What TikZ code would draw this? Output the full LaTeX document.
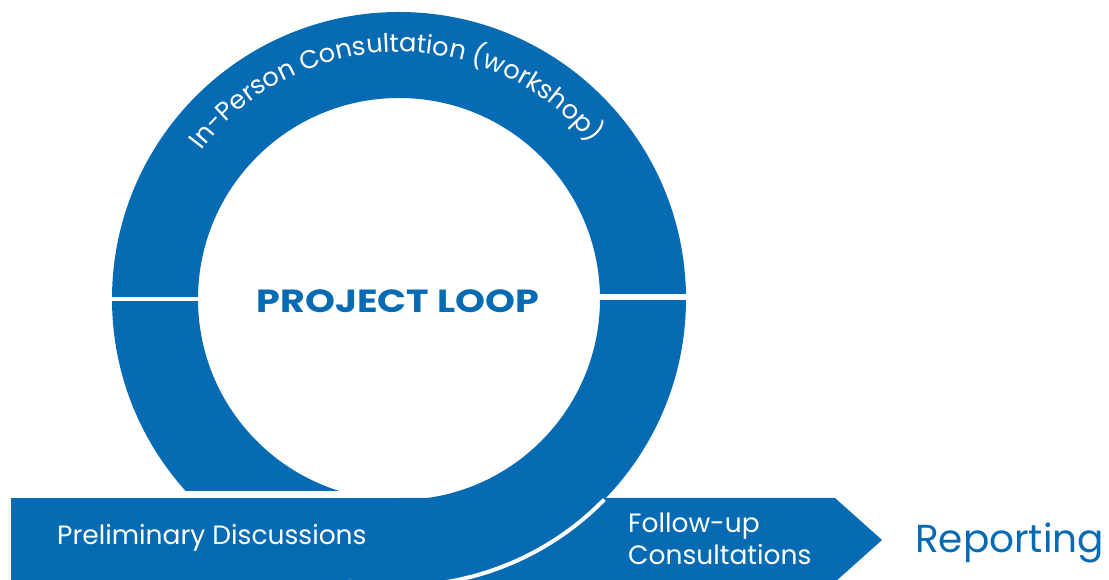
\documentclass[tikz,border=0pt]{standalone}
\usepackage{fontspec}
\setmainfont{Poppins}
\usetikzlibrary{decorations.text}
\definecolor{loopblue}{RGB}{6,107,178}
\newcommand\labelfont{\fontsize{26.5}{26.5}\selectfont}
\newcommand\arcfont{\fontsize{25.7}{25.7}\selectfont}
\begin{document}
\begin{tikzpicture}[x=1pt,y=1pt,
  bluefill/.style={fill=loopblue},
  gapline/.style={draw=white, line width=4pt},
  label/.style={text=white, font=\labelfont, inner sep=0pt, anchor=base west}]
\useasboundingbox (0,0) rectangle (1109,580);
\clip (0,0) rectangle (1109,580);
\coordinate (c) at (399,281);
% the loop
\fill[bluefill, even odd rule] (c) circle[radius=287] (c) circle[radius=201];
% lower band and the arrow to the right
\fill[bluefill] (11,-5) rectangle (400,82);
\fill[bluefill] (399,82) -- (835,82) -- (882,40) -- (835,-2) -- (399,-2) -- cycle;
% white gaps
\fill[white] (0,82) rectangle (399,89);
\draw[gapline] (c) ++(-100:287) arc[start angle=-100, end angle=-44.3, radius=287];
\draw[white, line width=3.5pt] (100,281) -- (205,281);
\draw[white, line width=6pt] (595,283) -- (700,283);
% labels
\path[decorate, decoration={text along path, text align=center,
  text={|\arcfont\color{white}|In-Person Consultation (workshop)}}]
  (c) ++(182:247) arc[start angle=182, end angle=0, radius=247];
\node[text=loopblue, font=\fontsize{32}{32}\selectfont\bfseries, inner sep=0pt, anchor=base] (title) at (398,267) {\scalebox{1.19}[1]{PROJECT LOOP}};
\node[label] (prelim) at (57,35) {Preliminary Discussions};
\node[label] (follow) at (628,47) {Follow-up};
\node[label] (consult) at (628,15) {Consultations};
\node[text=loopblue, font=\fontsize{39}{39}\selectfont, inner sep=0pt, anchor=base west] (report) at (915,27) {Reporting};
\end{tikzpicture}
\end{document}
